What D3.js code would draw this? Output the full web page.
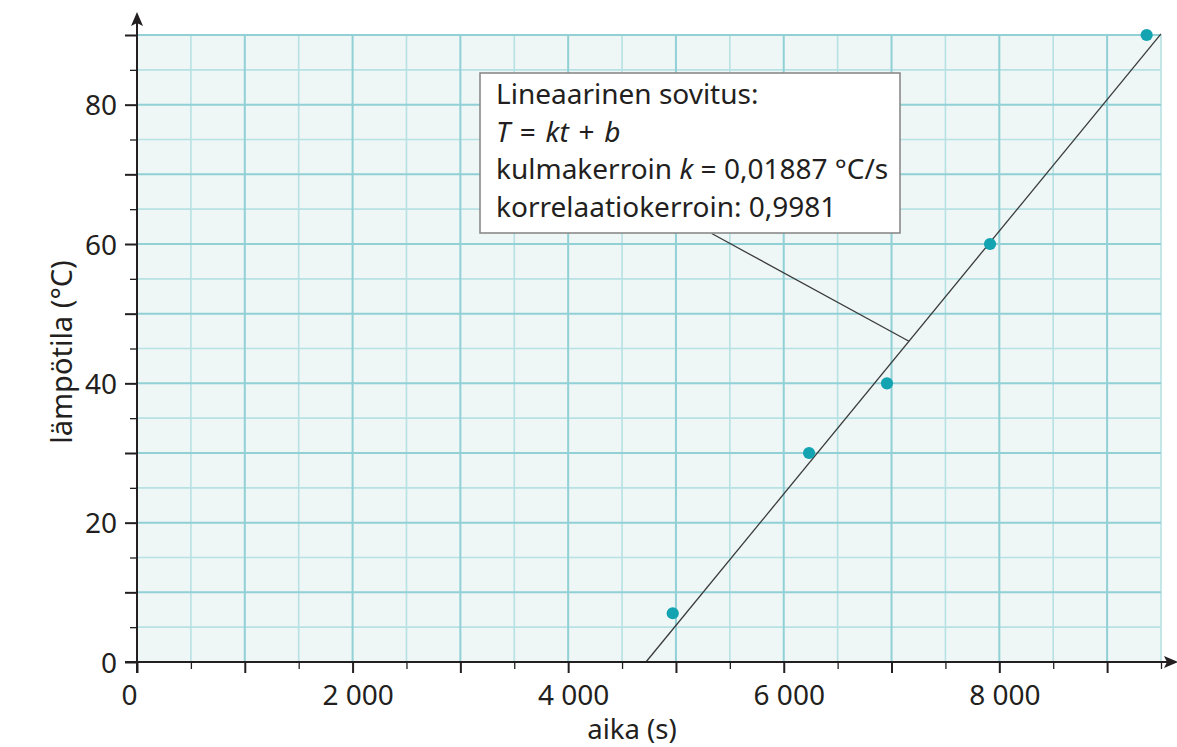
<!DOCTYPE html>
<html>
<head>
<meta charset="utf-8">
<script src="https://cdn.jsdelivr.net/npm/d3@7"></script>
<style>
  html, body { margin: 0; padding: 0; background: #ffffff; }
  svg { display: block; font-family: "Noto Sans", "Open Sans", sans-serif; }
</style>
</head>
<body>
<svg id="chart" width="1177" height="747"></svg>
<script>
// Measurements: time (s) and temperature (°C)
const times = [4970, 6235, 6958, 7914, 9367];
const temps = [7, 30, 40, 60, 90];

// Linear fit T = k t + b
const slopeK = 0.01887;
const interceptB = -89.1;
const correlation = 0.9981;

// Axis ticks and labels
const xMajorTicks = [0, 1000, 2000, 3000, 4000, 5000, 6000, 7000, 8000, 9000];
const xMinorTicks = [500, 1500, 2500, 3500, 4500, 5500, 6500, 7500, 8500, 9500];
const xLabelTicks = [0, 2000, 4000, 6000, 8000];
const yMajorTicks = [0, 10, 20, 30, 40, 50, 60, 70, 80, 90];
const yMinorTicks = [5, 15, 25, 35, 45, 55, 65, 75, 85];
const yLabelTicks = [0, 20, 40, 60, 80];

const xTitle = "aika (s)";
const yTitle = "lämpötila (°C)";

const svg = d3.select("#chart");
const plotL = 137, plotR = 1161, plotT = 35, plotB = 662;

const x = d3.scaleLinear().domain([0, 9500]).range([plotL, plotR]);
const y = d3.scaleLinear().domain([0, 90]).range([plotB, plotT]);

const fi = d3.formatLocale({ decimal: ",", thousands: " ", grouping: [3], currency: ["", ""] });
const fmtThousands = fi.format(",");
const fmtK = fi.format(".5f");
const fmtR = fi.format(".4f");

const axisColor = "#231f20";
const majorGrid = "#91d0d5";
const minorGrid = "#b7e1e3";

// Plot background
svg.append("rect")
  .attr("x", plotL).attr("y", plotT)
  .attr("width", plotR - plotL).attr("height", plotB - plotT)
  .attr("fill", "#eef6f6");

// Grid: minor first, major on top
const grid = svg.append("g");
grid.selectAll("line.vmin").data(xMinorTicks).join("line")
  .attr("x1", d => x(d)).attr("x2", d => x(d))
  .attr("y1", plotT).attr("y2", plotB)
  .attr("stroke", minorGrid).attr("stroke-width", 1.6);
grid.selectAll("line.hmin").data(yMinorTicks).join("line")
  .attr("x1", plotL).attr("x2", plotR)
  .attr("y1", d => y(d)).attr("y2", d => y(d))
  .attr("stroke", minorGrid).attr("stroke-width", 1.6);
grid.selectAll("line.vmaj").data(xMajorTicks.filter(d => d > 0)).join("line")
  .attr("x1", d => x(d)).attr("x2", d => x(d))
  .attr("y1", plotT).attr("y2", plotB)
  .attr("stroke", majorGrid).attr("stroke-width", 2);
grid.selectAll("line.hmaj").data(yMajorTicks.filter(d => d > 0)).join("line")
  .attr("x1", plotL).attr("x2", plotR)
  .attr("y1", d => y(d)).attr("y2", d => y(d))
  .attr("stroke", majorGrid).attr("stroke-width", 2);

// Fit line from T = 0 up to the right edge
const t0 = -interceptB / slopeK;
const fitPts = [t0, 9500].map(t => [t, slopeK * t + interceptB]);
svg.append("path")
  .attr("d", d3.line().x(d => x(d[0])).y(d => y(d[1]))(fitPts))
  .attr("fill", "none").attr("stroke", "#3a3a3a").attr("stroke-width", 1.3);

// Data points
svg.selectAll("circle.pt").data(times).join("circle")
  .attr("cx", d => x(d)).attr("cy", (d, i) => y(temps[i]))
  .attr("r", 6.1).attr("fill", "#14a3b1");

// Axes
const axisFont = 28;
const yMajorAxis = d3.axisLeft(y).tickValues(yMajorTicks).tickSize(12).tickPadding(8)
  .tickFormat(d => yLabelTicks.includes(d) ? fmtThousands(d) : "");
const yMinorAxis = d3.axisLeft(y).tickValues(yMinorTicks).tickSize(7).tickFormat("");
const xMajorAxis = d3.axisBottom(x).tickValues(xMajorTicks).tickSize(11).tickPadding(12)
  .tickFormat(d => xLabelTicks.includes(d) ? fmtThousands(d) : "");
const xMinorAxis = d3.axisBottom(x).tickValues(xMinorTicks).tickSize(7).tickFormat("");

function styleAxis(g, w) {
  g.select(".domain").remove();
  g.selectAll(".tick line").attr("stroke", axisColor).attr("stroke-width", w);
  g.selectAll(".tick text").attr("fill", axisColor)
    .attr("font-size", axisFont).attr("font-family", "Noto Sans, sans-serif");
}

svg.append("g").attr("transform", `translate(${plotL},0)`).call(yMinorAxis).call(g => styleAxis(g, 1.3));
svg.append("g").attr("transform", `translate(${plotL},0)`).call(yMajorAxis).call(g => styleAxis(g, 2))
  .selectAll(".tick text").attr("dy", "0.36em");
svg.append("g").attr("transform", `translate(0,${plotB})`).call(xMinorAxis).call(g => styleAxis(g, 1.3));
svg.append("g").attr("transform", `translate(0,${plotB})`).call(xMajorAxis).call(g => styleAxis(g, 2))
  .selectAll(".tick text")
  .attr("y", 43).attr("dy", 0)
  .attr("dx", d => d === 0 ? -8 : 5);

// Axis lines with arrowheads
svg.append("line").attr("x1", plotL).attr("x2", plotL).attr("y1", plotB + 11).attr("y2", 20)
  .attr("stroke", axisColor).attr("stroke-width", 2);
svg.append("line").attr("x1", plotL - 12).attr("x2", 1170).attr("y1", plotB).attr("y2", plotB)
  .attr("stroke", axisColor).attr("stroke-width", 2);
svg.append("path")
  .attr("d", `M${plotL},12 L${plotL + 6},26 L${plotL},23 L${plotL - 6},26 Z`)
  .attr("fill", axisColor);
svg.append("path")
  .attr("d", `M1178,${plotB} L1164,${plotB - 6} L1167,${plotB} L1164,${plotB + 6} Z`)
  .attr("fill", axisColor);

// Axis titles
svg.append("text").attr("x", 632).attr("y", 739).attr("text-anchor", "middle")
  .attr("font-size", 27.5).attr("fill", axisColor).text(xTitle);
svg.append("text").attr("transform", "translate(72,352) rotate(-90)").attr("text-anchor", "middle")
  .attr("font-size", 29).attr("fill", axisColor).text(yTitle);

// Callout with fit results
const leadFrom = [5332, 61.5];
const leadT = 7162;
svg.append("line")
  .attr("x1", x(leadFrom[0])).attr("y1", y(leadFrom[1]))
  .attr("x2", x(leadT)).attr("y2", y(slopeK * leadT + interceptB))
  .attr("stroke", "#3a3a3a").attr("stroke-width", 1.3);

const box = svg.append("g").attr("transform", "translate(480,73)");
box.append("rect").attr("width", 420).attr("height", 160)
  .attr("fill", "#ffffff").attr("stroke", "#8a8a8a").attr("stroke-width", 1.6);

const boxFont = 28;
const seg = (parent, txt, italic) => parent.append("tspan").attr("font-style", italic ? "italic" : null).text(txt);
box.append("text").attr("font-size", boxFont).attr("fill", axisColor).attr("x", 16).attr("y", 31)
  .text("Lineaarinen sovitus:");
const eq = box.append("text").attr("font-size", boxFont).attr("fill", axisColor)
  .attr("word-spacing", 2.5).attr("x", 16).attr("y", 68.5);
seg(eq, "T", true); seg(eq, " = ", false); seg(eq, "kt", true); seg(eq, " + ", false); seg(eq, "b", true);
const l3 = box.append("text").attr("font-size", boxFont).attr("fill", axisColor).attr("x", 16).attr("y", 106);
seg(l3, "kulmakerroin ", false); seg(l3, "k", true); seg(l3, " = " + fmtK(slopeK) + " °C/s", false);
box.append("text").attr("font-size", boxFont).attr("fill", axisColor).attr("x", 16).attr("y", 144)
  .text("korrelaatiokerroin: " + fmtR(correlation));
</script>
</body>
</html>
